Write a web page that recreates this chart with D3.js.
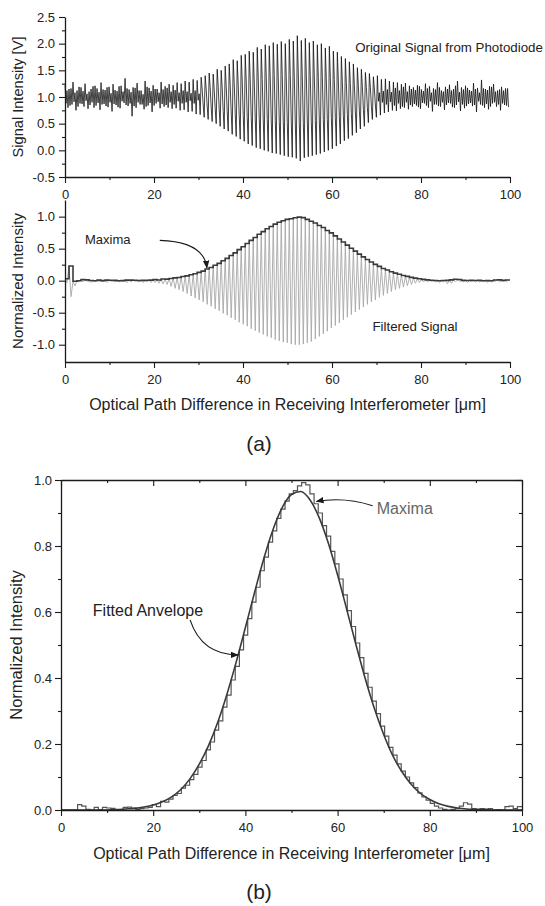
<!DOCTYPE html>
<html>
<head>
<meta charset="utf-8">
<script src="https://cdn.jsdelivr.net/npm/d3@7"></script>
<style>
  body { margin: 0; background: #fff; }
  svg { display: block; font-family: Arial, "Liberation Sans", sans-serif; }
</style>
</head>
<body>
<svg id="svg" width="545" height="906"></svg>
<script>
/*********************
 * Data
 *********************/
const fringeStep = 0.9; // um between successive fringes

// raw photodiode signal, four samples per fringe [V], in sampling order:
// upper excursion, 2nd sample, 3rd sample, lower excursion
const rawHi = [
  1.22,1.15,1.28,1.12,1.18,1.25,1.10,1.20,1.16,1.27,
  1.13,1.19,1.24,1.11,1.21,1.35,1.14,1.18,1.26,1.12,
  1.30,1.17,1.22,1.15,1.28,1.20,1.24,1.22,1.27,1.25,
  1.30,1.28,1.33,1.31,1.37,1.40,1.45,1.43,1.52,1.50,
  1.58,1.62,1.70,1.68,1.78,1.80,1.86,1.84,1.93,1.90,
  1.98,1.96,2.02,1.99,2.04,2.00,2.08,2.05,2.15,2.06,
  2.10,2.02,2.05,1.98,2.00,1.92,1.95,1.86,1.84,1.76,
  1.72,1.66,1.62,1.55,1.52,1.46,1.44,1.38,1.40,1.33,
  1.34,1.30,1.28,1.27,1.24,1.26,1.21,1.18,1.22,1.14,
  1.25,1.20,1.16,1.27,1.12,1.19,1.23,1.15,1.30,1.18,
  1.21,1.13,1.26,1.17,1.32,1.15,1.20,1.24,1.12,1.19,1.16
];
const rawDip = [
  0.88,0.84,0.91,0.82,0.87,0.93,0.85,0.80,0.89,0.86,
  0.83,0.90,0.87,0.81,0.92,0.85,0.88,0.83,0.90,0.86,
  0.82,0.89,0.84,0.91,0.87,0.85,0.90,0.86,0.92,0.88,
  0.90,0.93,0.88,0.94,1.15,1.15,1.18,1.15,1.20,1.17,
  1.21,1.22,1.27,1.24,1.30,1.30,1.33,1.30,1.36,1.33,
  1.38,1.36,1.40,1.37,1.40,1.36,1.42,1.39,1.45,1.40,
  1.43,1.38,1.41,1.37,1.39,1.34,1.37,1.33,1.32,1.29,
  1.27,1.25,1.23,1.21,1.20,1.18,1.18,1.15,0.92,0.90,
  0.86,0.91,0.84,0.88,0.82,0.90,0.85,0.87,0.81,0.89,
  0.84,0.92,0.86,0.83,0.90,0.85,0.88,0.80,0.91,0.86,
  0.83,0.89,0.85,0.92,0.84,0.87,0.82,0.90,0.86,0.88,0.84
];
const rawBump = [
  1.12,1.16,1.08,1.19,1.11,1.06,1.15,1.21,1.09,1.14,
  1.18,1.07,1.13,1.20,1.10,1.16,1.09,1.17,1.12,1.05,
  1.19,1.11,1.15,1.08,1.14,1.17,1.10,1.13,1.08,1.12,
  1.10,1.07,1.12,1.06,0.85,0.83,0.81,0.78,0.77,0.73,
  0.73,0.70,0.69,0.65,0.65,0.62,0.62,0.59,0.60,0.57,
  0.58,0.55,0.56,0.54,0.54,0.52,0.53,0.51,0.51,0.52,
  0.55,0.54,0.56,0.55,0.58,0.58,0.61,0.61,0.64,0.65,
  0.67,0.69,0.72,0.75,0.77,0.80,0.82,0.85,1.08,1.11,
  1.14,1.09,1.17,1.12,1.19,1.10,1.15,1.13,1.20,1.11,
  1.16,1.08,1.14,1.18,1.10,1.15,1.12,1.21,1.09,1.14,
  1.17,1.11,1.15,1.08,1.16,1.13,1.19,1.10,1.14,1.12,1.16
];
const rawLo = [
  0.80,0.86,0.75,0.88,0.82,0.78,0.90,0.84,0.76,0.87,
  0.81,0.73,0.85,0.79,0.89,0.83,0.64,0.80,0.86,0.77,
  0.84,0.72,0.88,0.79,0.82,0.80,0.78,0.79,0.75,0.76,
  0.72,0.73,0.68,0.67,0.62,0.58,0.54,0.50,0.45,0.40,
  0.36,0.30,0.26,0.21,0.17,0.12,0.09,0.05,0.03,0.00,
  -0.02,-0.05,-0.06,-0.08,-0.10,-0.12,-0.13,-0.15,-0.20,-0.14,
  -0.12,-0.10,-0.08,-0.06,-0.03,0.00,0.03,0.08,0.12,0.18,
  0.22,0.28,0.33,0.40,0.45,0.52,0.58,0.62,0.66,0.70,
  0.72,0.75,0.74,0.78,0.80,0.77,0.82,0.84,0.78,0.88,
  0.80,0.73,0.86,0.82,0.76,0.89,0.81,0.85,0.74,0.79,
  0.87,0.83,0.72,0.86,0.80,0.77,0.88,0.82,0.75,0.85,0.81
];

// normalized maxima of each fringe (filtered signal)
const maxima = [
  0,0,0,0,0.016,0.012,0.002,0,0.008,0.001,
  0.008,0.006,0.005,0,0.001,0.008,0.009,0.006,0.002,0.004,
  0.006,0.008,0.016,0.010,0.026,0.024,0.033,0.044,0.050,0.066,
  0.075,0.092,0.108,0.130,0.150,0.182,0.206,0.242,0.270,0.312,
  0.348,0.394,0.435,0.485,0.530,0.580,0.630,0.675,0.725,0.766,
  0.812,0.846,0.884,0.912,0.936,0.958,0.968,0.982,0.992,0.985,
  0.958,0.928,0.900,0.862,0.830,0.784,0.746,0.700,0.652,0.604,
  0.556,0.506,0.462,0.414,0.372,0.330,0.292,0.254,0.224,0.190,
  0.166,0.140,0.118,0.100,0.082,0.068,0.052,0.040,0.030,0.020,
  0.012,0.006,0.002,0,0.002,0.004,0.012,0.022,0.018,0.004,
  0.002,0.004,0.003,0.004,0,0.001,0,0.010,0.012,0.004,0.010
];
// filter start-up transient (first fringes of the filtered trace)
const filterEdge = [0.03, 0.23, -0.01];

// normalized minima of each fringe (filtered signal)
const minima = [
  -0.03,-0.25,-0.08,-0.02,-0.02,-0.01,-0.03,-0.02,-0.01,-0.02,
  -0.03,-0.01,-0.02,-0.02,-0.01,-0.03,-0.02,-0.01,-0.02,-0.03,
  -0.02,-0.03,-0.03,-0.04,-0.05,-0.06,-0.09,-0.12,-0.14,-0.17,
  -0.20,-0.24,-0.27,-0.30,-0.33,-0.37,-0.40,-0.44,-0.47,-0.51,
  -0.54,-0.58,-0.61,-0.65,-0.68,-0.71,-0.75,-0.78,-0.81,-0.84,
  -0.87,-0.89,-0.92,-0.94,-0.96,-0.97,-0.99,-1.00,-1.00,-0.99,
  -0.97,-0.95,-0.91,-0.87,-0.83,-0.79,-0.74,-0.70,-0.66,-0.61,
  -0.57,-0.53,-0.49,-0.45,-0.41,-0.37,-0.33,-0.30,-0.26,-0.23,
  -0.20,-0.17,-0.14,-0.12,-0.10,-0.08,-0.06,-0.04,-0.03,-0.02,
  -0.02,-0.01,-0.02,-0.03,-0.02,-0.05,-0.04,-0.02,-0.01,-0.02,
  -0.03,-0.01,-0.02,-0.02,-0.01,-0.03,-0.02,-0.01,-0.02,-0.01,-0.02
];

// fitted envelope, sampled every 2 um from 0 to 100
const fitX = d3.range(0, 101, 2);
const fitY = [
  0,0,0,0,0,0,0.001,0.003,0.005,0.009,
  0.015,0.025,0.040,0.062,0.095,0.139,0.195,0.266,0.351,0.448,
  0.553,0.660,0.762,0.850,0.917,0.956,0.965,0.940,0.886,0.808,
  0.712,0.607,0.500,0.398,0.307,0.229,0.164,0.115,0.077,0.050,
  0.032,0.019,0.011,0.006,0.003,0.002,0.001,0,0,0,0
];

// ticks
const xTicks = [0, 20, 40, 60, 80, 100];
const xMinor = [10, 30, 50, 70, 90];
const sigTicks = [-0.5, 0, 0.5, 1, 1.5, 2, 2.5];
const sigMinor = [-0.25, 0.25, 0.75, 1.25, 1.75, 2.25];
const normTicks = [-1, -0.5, 0, 0.5, 1];
const normMinor = [-0.75, -0.25, 0.25, 0.75];
const envTicks = [0, 0.2, 0.4, 0.6, 0.8, 1.0];
const envMinor = [0.1, 0.3, 0.5, 0.7, 0.9];

const xTitle = 'Optical Path Difference in Receiving Interferometer [\u03bcm]';

/*********************
 * Helpers
 *********************/
const svg = d3.select('#svg');
const fringeX = rawHi.map((d, i) => i * fringeStep);
const fmt = d => d.toFixed(1);

function drawAxis(orient, scale, major, minor, opts) {
  const make = {left: d3.axisLeft, right: d3.axisRight, top: d3.axisTop, bottom: d3.axisBottom}[orient];
  const dir = opts.inward ? -1 : 1;
  const g = svg.append('g').attr('transform', opts.at);

  const gm = g.append('g').call(make(scale).tickValues(minor).tickSize(3 * dir).tickSizeOuter(0).tickFormat(''));
  gm.select('.domain').remove();

  const gM = g.append('g').call(make(scale).tickValues(major).tickSize(6 * dir).tickSizeOuter(0)
    .tickPadding(opts.pad || 3).tickFormat(opts.labels === false ? '' : (opts.fmt || fmt)));
  g.selectAll('line').attr('stroke', '#1a1a1a').attr('stroke-width', 1.1);
  gM.select('.domain').attr('stroke', '#1a1a1a').attr('stroke-width', 1.3);
  g.selectAll('g').attr('font-family', null).attr('font-size', null);
  g.selectAll('text').style('font-size', '13px').attr('fill', '#222');
  return g;
}

function label(text, x, y, size, opts = {}) {
  const t = svg.append('text')
    .attr('x', x).attr('y', y)
    .style('font-size', size + 'px')
    .attr('fill', opts.fill || '#222')
    .attr('text-anchor', opts.anchor || 'start')
    .text(text);
  if (opts.rotate) t.attr('transform', `rotate(-90,${x},${y})`);
  return t;
}

// arrowhead
svg.append('defs').append('marker')
  .attr('id', 'arrow')
  .attr('viewBox', '0 0 10 10')
  .attr('refX', 9).attr('refY', 5)
  .attr('markerWidth', 8).attr('markerHeight', 8)
  .attr('markerUnits', 'userSpaceOnUse')
  .attr('orient', 'auto')
  .append('path').attr('d', 'M0,1 L10,5 L0,9 z').attr('fill', '#1a1a1a');

function arrow(x, y, from, ctrl, to) {
  svg.append('path')
    .attr('d', `M${x(from[0])},${y(from[1])} Q${x(ctrl[0])},${y(ctrl[1])} ${x(to[0])},${y(to[1])}`)
    .attr('fill', 'none')
    .attr('stroke', '#1a1a1a')
    .attr('stroke-width', 1.1)
    .attr('marker-end', 'url(#arrow)');
}

/*********************
 * Panel 1: original signal
 *********************/
{
  const x = d3.scaleLinear().domain([0, 100]).range([65, 510]);
  const y = d3.scaleLinear().domain([-0.5, 2.5]).range([177, 17]);

  const q = fringeStep / 4;
  const pts = [];
  fringeX.forEach((fx, i) => {
    pts.push([fx, rawHi[i]]);
    pts.push([fx + q, rawDip[i]]);
    pts.push([fx + 2 * q, rawBump[i]]);
    pts.push([fx + 3 * q, rawLo[i]]);
  });
  svg.append('path')
    .attr('d', d3.line().x(d => x(d[0])).y(d => y(d[1]))(pts))
    .attr('fill', 'none')
    .attr('stroke', '#111')
    .attr('stroke-width', 0.8);

  drawAxis('bottom', x, xTicks, xMinor, {at: `translate(0,${y(-0.5)})`, pad: 7, fmt: d3.format('d')});
  drawAxis('left', y, sigTicks, sigMinor, {at: `translate(${x(0)},0)`, pad: 4});

  label('Signal Intensity [V]', 23, (y(-0.5) + y(2.5)) / 2, 14.6, {rotate: true, anchor: 'middle'});
  label('Original Signal from Photodiode', x(65.2), y(1.84), 13.3);
}

/*********************
 * Panel 2: filtered signal + maxima
 *********************/
{
  const x = d3.scaleLinear().domain([0, 100]).range([65, 510]);
  const y = d3.scaleLinear().domain([-1.27, 1.26]).range([362, 200]);
  const filtMax = maxima.map((d, i) => i < filterEdge.length ? filterEdge[i] : d);

  const pts = [];
  fringeX.forEach((fx, i) => {
    pts.push([fx, filtMax[i]]);
    pts.push([fx + fringeStep / 2, minima[i]]);
  });
  svg.append('path')
    .attr('d', d3.line().x(d => x(d[0])).y(d => y(d[1]))(pts))
    .attr('fill', 'none')
    .attr('stroke', '#a8a8a8')
    .attr('stroke-width', 0.9);

  const steps = fringeX.map((fx, i) => [fx, filtMax[i]]);
  steps.push([100, filtMax[filtMax.length - 1]]);
  svg.append('path')
    .attr('d', d3.line().curve(d3.curveStepAfter).x(d => x(d[0])).y(d => y(d[1]))(steps))
    .attr('fill', 'none')
    .attr('stroke', '#3a3a3a')
    .attr('stroke-width', 1.6);

  drawAxis('bottom', x, xTicks, xMinor, {at: `translate(0,${y(-1.27)})`, pad: 7, fmt: d3.format('d')});
  drawAxis('left', y, normTicks, normMinor, {at: `translate(${x(0)},0)`, pad: 4});

  label('Normalized Intensity', 23, (y(-1.27) + y(1.26)) / 2, 15, {rotate: true, anchor: 'middle'});
  label('Maxima', x(4.5), y(0.58), 13);
  label('Filtered Signal', x(69.1), y(-0.79), 13.3);
  arrow(x, y, [21.3, 0.63], [31.2, 0.61], [31.9, 0.2]);

  label(xTitle, (x(0) + x(100)) / 2, 410, 16, {anchor: 'middle'});
  label('(a)', 259, 451, 21, {anchor: 'middle'});
}

/*********************
 * Panel 3: maxima + fitted envelope
 *********************/
{
  const x = d3.scaleLinear().domain([0, 100]).range([61, 522]);
  const y = d3.scaleLinear().domain([0, 1]).range([810, 480]);

  const steps = fringeX.map((fx, i) => [fx, maxima[i]]);
  steps.push([100, maxima[maxima.length - 1]]);
  svg.append('path')
    .attr('d', d3.line().curve(d3.curveStepAfter).x(d => x(d[0])).y(d => y(d[1]))(steps))
    .attr('fill', 'none')
    .attr('stroke', '#555')
    .attr('stroke-width', 1.2);

  svg.append('path')
    .attr('d', d3.line().curve(d3.curveMonotoneX).x((d, i) => x(fitX[i])).y(d => y(d))(fitY))
    .attr('fill', 'none')
    .attr('stroke', '#3a3a3a')
    .attr('stroke-width', 1.6);

  drawAxis('bottom', x, xTicks, xMinor, {at: `translate(0,${y(0)})`, pad: 7, fmt: d3.format('d')});
  drawAxis('top', x, xTicks, xMinor, {at: `translate(0,${y(1)})`, inward: true, labels: false});
  drawAxis('left', y, envTicks, envMinor, {at: `translate(${x(0)},0)`, pad: 3});
  drawAxis('right', y, envTicks, envMinor, {at: `translate(${x(100)},0)`, inward: true, labels: false});

  label('Normalized Intensity', 22, (y(0) + y(1)) / 2, 16.5, {rotate: true, anchor: 'middle'});
  label('Maxima', x(68.5), y(0.898), 16, {fill: '#666'});
  arrow(x, y, [67.6, 0.922], [61.5, 0.95], [55.4, 0.935]);
  label('Fitted Anvelope', x(6.9), y(0.589), 16);
  arrow(x, y, [28, 0.576], [30.5, 0.47], [38.4, 0.47]);

  label(xTitle, (x(0) + x(100)) / 2, 859, 16, {anchor: 'middle'});
  label('(b)', 259, 899, 21, {anchor: 'middle'});
}
</script>
</body>
</html>
